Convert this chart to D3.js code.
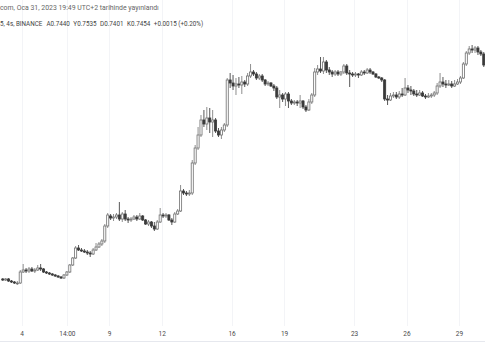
<!DOCTYPE html>
<html><head><meta charset="utf-8">
<script src="https://cdn.jsdelivr.net/npm/d3@7/dist/d3.min.js"></script>
<style>html,body{margin:0;padding:0;background:#fff;overflow:hidden}</style>
</head><body><svg id="c" width="485" height="360"></svg>
<script>
// ---- data (4h candles, local time UTC+2) ----
const startTime = Date.UTC(2023, 0, 2, 22);
const barHours = 4;
const open = [
0.526,0.525,0.526,0.524,0.523,0.522,0.522,0.533,0.535,0.534,
0.536,0.534,0.535,0.537,0.536,0.533,0.532,0.531,0.530,0.529,
0.528,0.527,0.530,0.533,0.540,0.547,0.557,0.555,0.554,0.553,
0.552,0.551,0.555,0.558,0.561,0.564,0.579,0.589,0.587,0.588,
0.590,0.586,0.591,0.586,0.585,0.586,0.588,0.586,0.589,0.585,
0.581,0.583,0.579,0.576,0.583,0.590,0.589,0.590,0.585,0.583,
0.591,0.594,0.614,0.612,0.611,0.612,0.642,0.657,0.670,0.685,
0.681,0.687,0.683,0.685,0.674,0.670,0.675,0.680,0.725,0.722,
0.719,0.721,0.720,0.723,0.721,0.729,0.733,0.731,0.727,0.729,
0.725,0.721,0.722,0.719,0.717,0.708,0.710,0.706,0.711,0.704,
0.702,0.703,0.702,0.704,0.698,0.695,0.703,0.710,0.733,0.736,
0.734,0.743,0.735,0.733,0.731,0.733,0.731,0.733,0.739,0.732,
0.731,0.730,0.731,0.730,0.733,0.732,0.735,0.733,0.731,0.728,
0.727,0.725,0.706,0.705,0.709,0.710,0.708,0.711,0.710,0.717,
0.715,0.714,0.711,0.710,0.712,0.709,0.708,0.709,0.710,0.712,
0.719,0.723,0.721,0.720,0.721,0.719,0.721,0.723,0.727,0.741,
0.752,0.756,0.755,0.757,0.753,0.751];
const high = [
0.527,0.527,0.527,0.525,0.524,0.524,0.535,0.541,0.537,0.538,
0.538,0.537,0.540,0.541,0.537,0.534,0.533,0.532,0.531,0.530,
0.529,0.531,0.534,0.541,0.548,0.559,0.560,0.557,0.556,0.555,
0.554,0.557,0.562,0.563,0.566,0.581,0.592,0.591,0.591,0.592,
0.603,0.593,0.595,0.588,0.588,0.590,0.590,0.592,0.590,0.586,
0.585,0.584,0.583,0.585,0.597,0.592,0.592,0.591,0.587,0.593,
0.596,0.620,0.616,0.614,0.615,0.645,0.660,0.678,0.690,0.695,
0.698,0.697,0.695,0.687,0.677,0.678,0.682,0.727,0.732,0.730,
0.727,0.728,0.729,0.725,0.732,0.741,0.735,0.733,0.731,0.731,
0.726,0.724,0.723,0.721,0.719,0.715,0.712,0.713,0.713,0.706,
0.705,0.705,0.710,0.705,0.700,0.706,0.712,0.737,0.740,0.748,
0.748,0.745,0.738,0.735,0.735,0.735,0.734,0.741,0.741,0.735,
0.733,0.733,0.732,0.735,0.735,0.737,0.737,0.734,0.732,0.729,
0.728,0.726,0.710,0.712,0.713,0.713,0.714,0.717,0.727,0.720,
0.719,0.716,0.715,0.715,0.714,0.711,0.712,0.712,0.714,0.722,
0.732,0.728,0.725,0.725,0.724,0.725,0.726,0.729,0.743,0.754,
0.759,0.760,0.759,0.759,0.755,0.753];
const low = [
0.524,0.524,0.523,0.522,0.521,0.520,0.521,0.532,0.532,0.532,
0.533,0.532,0.534,0.534,0.532,0.531,0.530,0.529,0.528,0.527,
0.526,0.526,0.529,0.532,0.539,0.546,0.554,0.553,0.552,0.550,
0.548,0.550,0.554,0.557,0.559,0.562,0.577,0.585,0.584,0.586,
0.584,0.583,0.584,0.582,0.583,0.585,0.584,0.585,0.584,0.580,
0.579,0.577,0.574,0.575,0.582,0.587,0.587,0.584,0.580,0.582,
0.590,0.593,0.610,0.609,0.609,0.610,0.640,0.655,0.668,0.678,
0.675,0.672,0.668,0.672,0.668,0.666,0.673,0.678,0.717,0.715,
0.710,0.717,0.711,0.718,0.719,0.727,0.729,0.725,0.725,0.723,
0.719,0.719,0.718,0.714,0.706,0.697,0.703,0.699,0.697,0.700,
0.700,0.699,0.697,0.696,0.693,0.694,0.701,0.708,0.730,0.732,
0.731,0.732,0.730,0.728,0.729,0.729,0.729,0.731,0.730,0.718,
0.728,0.728,0.727,0.729,0.730,0.731,0.731,0.730,0.727,0.726,
0.723,0.704,0.700,0.704,0.707,0.706,0.706,0.708,0.709,0.712,
0.710,0.709,0.708,0.709,0.708,0.706,0.707,0.707,0.708,0.710,
0.717,0.718,0.717,0.719,0.717,0.718,0.720,0.721,0.726,0.739,
0.750,0.752,0.752,0.750,0.749,0.738];
const close = [
0.525,0.526,0.524,0.523,0.522,0.522,0.533,0.535,0.534,0.536,
0.534,0.535,0.537,0.536,0.533,0.532,0.531,0.530,0.529,0.528,
0.527,0.530,0.533,0.540,0.547,0.557,0.555,0.554,0.553,0.552,
0.551,0.555,0.558,0.561,0.564,0.579,0.590,0.587,0.588,0.590,
0.586,0.591,0.586,0.585,0.586,0.588,0.586,0.589,0.585,0.581,
0.583,0.579,0.576,0.583,0.590,0.589,0.590,0.585,0.583,0.591,
0.594,0.614,0.612,0.611,0.612,0.642,0.657,0.670,0.685,0.681,
0.687,0.683,0.685,0.674,0.670,0.675,0.680,0.725,0.722,0.719,
0.721,0.720,0.723,0.721,0.729,0.733,0.731,0.727,0.729,0.725,
0.721,0.722,0.719,0.717,0.708,0.710,0.706,0.711,0.704,0.702,
0.703,0.702,0.704,0.698,0.695,0.703,0.710,0.733,0.736,0.734,
0.743,0.735,0.733,0.731,0.733,0.731,0.733,0.739,0.732,0.731,
0.730,0.731,0.730,0.733,0.732,0.735,0.733,0.731,0.728,0.727,
0.725,0.706,0.705,0.709,0.710,0.708,0.711,0.710,0.717,0.715,
0.714,0.711,0.710,0.712,0.709,0.708,0.709,0.710,0.712,0.719,
0.723,0.721,0.720,0.721,0.719,0.721,0.723,0.727,0.741,0.752,
0.756,0.755,0.757,0.753,0.751,0.740];

const tickDates = [Date.UTC(2023,0,4), Date.UTC(2023,0,6,14), Date.UTC(2023,0,9), Date.UTC(2023,0,12),
  Date.UTC(2023,0,16), Date.UTC(2023,0,19), Date.UTC(2023,0,23), Date.UTC(2023,0,26), Date.UTC(2023,0,29)];
const tickLabels = ["4","14:00","9","12","16","19","23","26","29"];

const headerLine1 = "com, Oca 31, 2023 19:49 UTC+2 tarihinde yayınlandı";
const headerSymbol = "5, 4s, BINANCE";
const ohlcLabels = ["A","Y","D","K"];
const ohlcValues = ["0.7440","0.7535","0.7401","0.7454"];
const changeText = "+0.0015 (+0.20%)";

// ---- drawing ----
const W = 485, H = 360;
const svg = d3.select("#c");
const FONT = "Roboto, 'Noto Sans', sans-serif";

const x = d3.scaleUtc()
  .domain([new Date(Date.UTC(2023,0,4)), new Date(Date.UTC(2023,0,29))])
  .range([21.7, 459]);
const y = d3.scaleLinear().domain([0.52, 0.76]).range([285, 45]);

const bars = open.map((o, i) => ({
  t: new Date(startTime + i * barHours * 3600e3),
  o, h: high[i], l: low[i], c: close[i]
}));

// vertical grid
svg.append("g").selectAll("line").data(tickDates).join("line")
  .attr("x1", d => Math.round(x(new Date(d))) + 0.5)
  .attr("x2", d => Math.round(x(new Date(d))) + 0.5)
  .attr("y1", 0).attr("y2", 326)
  .attr("stroke", "#f3f4f7").attr("stroke-width", 1);

// candles
const cg = svg.append("g");
const bw = 2.1;
cg.selectAll("line.w").data(bars).join("line").attr("class","w")
  .attr("x1", d => x(d.t)).attr("x2", d => x(d.t))
  .attr("y1", d => y(d.h)).attr("y2", d => y(d.l))
  .attr("stroke", d => d.c >= d.o ? "#7a7a7a" : "#3a3a3a")
  .attr("stroke-width", 0.85);
cg.selectAll("rect").data(bars).join("rect")
  .attr("x", d => x(d.t) - bw / 2)
  .attr("width", bw)
  .attr("y", d => y(Math.max(d.o, d.c)))
  .attr("height", d => Math.max(0.8, Math.abs(y(d.o) - y(d.c))))
  .attr("fill", d => d.c >= d.o ? "#ffffff" : "#3a3a3a")
  .attr("stroke", d => d.c >= d.o ? "#707070" : "#3a3a3a")
  .attr("stroke-width", 0.8);

// time axis
const axisY = 341;
svg.append("line").attr("x1", 0).attr("x2", W).attr("y1", axisY + 0.5).attr("y2", axisY + 0.5)
  .attr("stroke", "#e6e8ee");
const ax = d3.axisTop(x)
  .tickValues(tickDates.map(d => new Date(d)))
  .tickFormat((d, i) => tickLabels[i])
  .tickSize(0).tickPadding(5);
const axg = svg.append("g").attr("transform", `translate(0,${axisY})`).call(ax);
axg.select(".domain").remove();
axg.selectAll("text").attr("font-family", FONT).attr("font-size", 6.5).attr("fill", "#4a4a4a");

// header
svg.append("text").attr("x", 0).attr("y", 9.5)
  .attr("font-family", FONT).attr("font-size", 6.9).attr("fill", "#666")
  .text(headerLine1);
const h2 = svg.append("text").attr("x", 0).attr("y", 25.5)
  .attr("font-family", FONT).attr("font-size", 6.3).attr("fill", "#444");
h2.append("tspan").text(headerSymbol);
ohlcLabels.forEach((lab, i) => {
  h2.append("tspan").attr("dx", i === 0 ? 4 : 3.5).text(lab + ohlcValues[i]);
});
h2.append("tspan").attr("dx", 3.5).text(changeText);
</script></body></html>
